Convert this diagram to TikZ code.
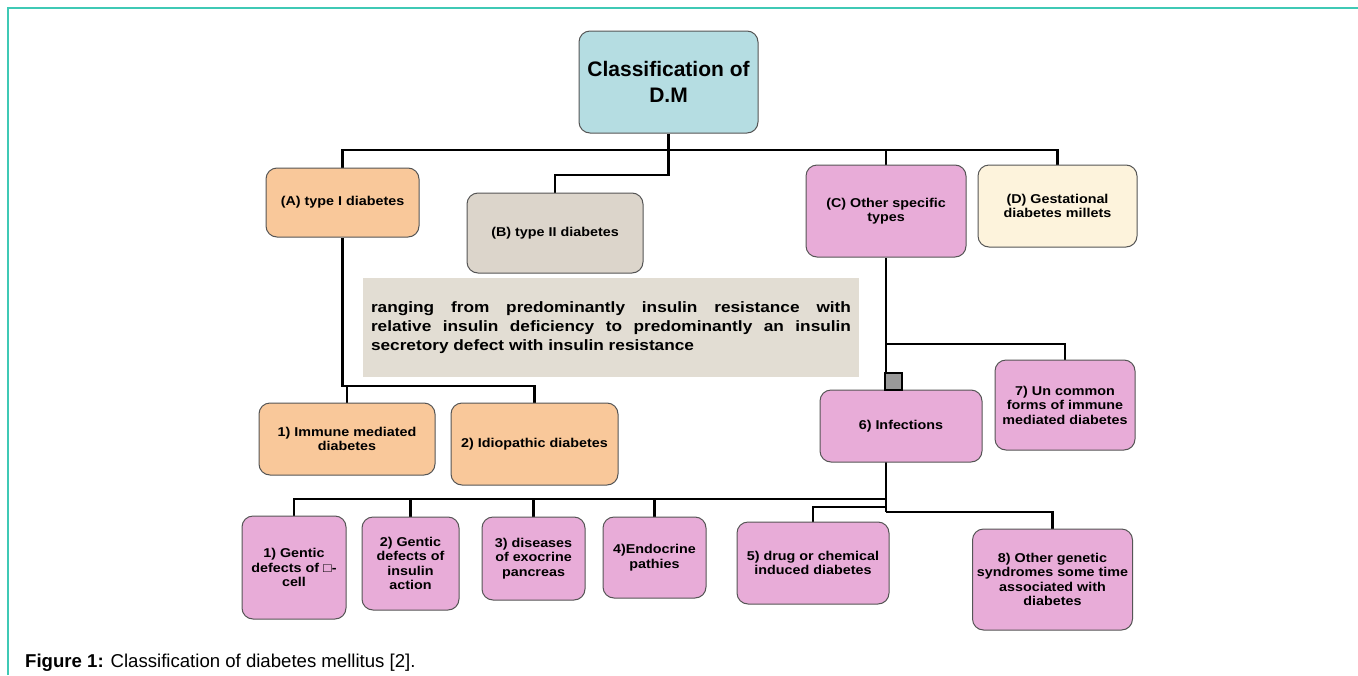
\documentclass[tikz,border=0pt]{standalone}
\usepackage{fontspec}
\setmainfont{Liberation Sans}
\newfontfamily\boxfont{Liberation Sans}[FakeStretch=1.12]
\newfontfamily\descfont{Liberation Sans}[FakeStretch=1.15]
\usetikzlibrary{calc}
\pgfdeclarelayer{bg}\pgfsetlayers{bg,main}
\definecolor{framec}{HTML}{3FC9B5}
\definecolor{rootc}{HTML}{B5DDE2}
\definecolor{orangec}{HTML}{F9C89A}
\definecolor{greyc}{HTML}{DCD5CB}
\definecolor{descc}{HTML}{E2DDD3}
\definecolor{pinkc}{HTML}{E8ACD8}
\definecolor{creamc}{HTML}{FDF3DC}
\definecolor{boxline}{HTML}{555555}
\begin{document}
\begin{tikzpicture}[x=1pt,y=-1pt,
  bx/.style={draw=boxline, line width=1pt, rounded corners=11pt, align=center,
    font=\boxfont\fontsize{12.8}{14.5}\selectfont\bfseries, inner sep=2pt},
  conn/.style={line width=2.4pt, black},
  sq/.style={draw=black, line width=1.2pt, fill=gray!80, minimum size=17pt, inner sep=0pt}]
\useasboundingbox (0,0) rectangle (1358,675);

% nodes
\node[bx, fill=rootc, minimum width=179pt, minimum height=102pt,
  font=\fontsize{21}{26}\selectfont\bfseries] (root) at (668.5,82) {Classification of\\D.M};
\node[bx, fill=orangec, minimum width=153pt, minimum height=69pt] (A) at (342.5,202.5) {(A) type I diabetes};
\node[bx, fill=greyc, minimum width=176pt, minimum height=80pt] (B) at (555,233) {(B) type II diabetes};
\node[bx, fill=pinkc, minimum width=160pt, minimum height=92pt] (C) at (886,211) {(C) Other specific\\types};
\node[bx, fill=creamc, minimum width=159pt, minimum height=82pt] (D) at (1057.5,206) {(D) Gestational\\diabetes millets};
\node[fill=descc, minimum width=496pt, minimum height=99pt, inner sep=0pt] (desc) at (611,327.5)
  {\parbox{480pt}{\descfont\fontsize{15}{19}\selectfont\bfseries
   \makebox[480pt][s]{ranging from predominantly insulin resistance with}\\
   \makebox[480pt][s]{relative insulin deficiency to predominantly an insulin}\\
   \makebox[480pt][l]{secretory defect with insulin resistance}}};
\node[bx, fill=orangec, minimum width=176pt, minimum height=72pt] (i1) at (347,439) {1) Immune mediated\\diabetes};
\node[bx, fill=orangec, minimum width=167pt, minimum height=82pt] (i2) at (534.5,444) {2) Idiopathic diabetes};
\node[bx, fill=pinkc, minimum width=162pt, minimum height=72pt] (b6) at (901,426) {6) Infections};
\node[bx, fill=pinkc, minimum width=140pt, minimum height=90pt] (b7) at (1065,405) {7) Un common\\forms of immune\\mediated diabetes};
\node[sq] (sqr) at (893.5,381.5) {};
\node[bx, fill=pinkc, minimum width=104pt, minimum height=103pt] (b1) at (294,567.5) {1) Gentic\\defects of □-\\cell};
\node[bx, fill=pinkc, minimum width=97pt, minimum height=93pt] (b2) at (410.5,563.5) {2) Gentic\\defects of\\insulin\\action};
\node[bx, fill=pinkc, minimum width=103pt, minimum height=83pt] (b3) at (533.5,558.5) {3) diseases\\of exocrine\\pancreas};
\node[bx, fill=pinkc, minimum width=103pt, minimum height=81pt] (b4) at (654.5,557.5) {4)Endocrine\\pathies};
\node[bx, fill=pinkc, minimum width=152pt, minimum height=82pt] (b5) at (813,563) {5) drug or chemical\\induced diabetes};
\node[bx, fill=pinkc, minimum width=160pt, minimum height=101pt] (b8) at (1052.5,579.5) {8) Other genetic\\syndromes some time\\associated with\\diabetes};

\node[anchor=base west, font=\fontsize{18.6}{22}\selectfont, inner sep=0pt] (cap) at (25,667)
  {\textbf{Figure 1:} Classification of diabetes mellitus [2].};

% background, frame and connectors
\begin{pgfonlayer}{bg}
\fill[white] (0,0) rectangle (1358,675);
\draw[framec, line width=1.5pt] (8,675) -- (8,8) -- (1358,8);
\coordinate (ybus) at (0,150);
\coordinate (yb) at (0,175);
\coordinate (ya) at (0,386);
\coordinate (y7) at (0,344);
\coordinate (ylow) at (0,499);
\coordinate (y5) at (0,507);
\coordinate (y8) at (0,512);
\draw[conn] (A.north) -- (A.north |- ybus) -- (D.north |- ybus) -- (D.north);
\draw[conn] (C.north) -- (C.north |- ybus);
\draw[conn] (root.south) -- (root.south |- yb) -| (B.north);
\draw[conn] (A.south) -- (A.south |- ya) -| (i2.north);
\draw[conn] (i1.north) -- (i1.north |- ya);
\draw[conn] (C.south) -- (C.south |- y8);
\draw[conn] (C.south |- y7) -| (b7.north);
\draw[conn] (C.south |- ylow) -| (b1.north);
\draw[conn] (b2.north) -- (b2.north |- ylow);
\draw[conn] (b3.north) -- (b3.north |- ylow);
\draw[conn] (b4.north) -- (b4.north |- ylow);
\draw[conn] (C.south |- y5) -| (b5.north);
\draw[conn] (C.south |- y8) -| (b8.north);
\end{pgfonlayer}
\end{tikzpicture}
\end{document}
